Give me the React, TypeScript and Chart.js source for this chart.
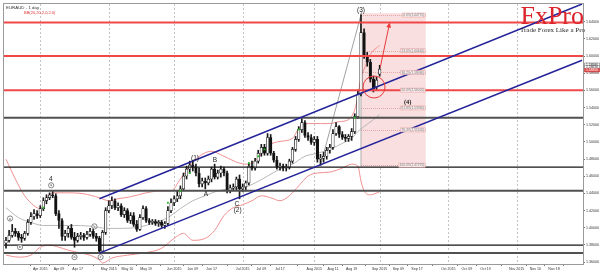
import React, { useEffect, useRef } from 'react';
import { Chart, registerables } from 'chart.js';

Chart.register(...registerables);

// ---- daily candles (index 0 = 17 Mar 2015, weekdays only) ----
const opens = [1.3819,1.3853,1.3911,1.3957,1.3934,1.3888,1.3876,1.3934,1.4061,1.4130,1.4164,1.4141,1.4222,1.4314,1.4349,1.4383,1.4372,1.4164,1.4084,1.3899,1.3934,1.3992,1.3888,1.3853,1.3899,1.3911,1.3888,1.3922,1.3957,1.3899,1.3876,1.3726,1.3945,1.4199,1.4256,1.4314,1.4233,1.4256,1.4153,1.4199,1.4084,1.4141,1.4038,1.3980,1.4118,1.4222,1.4084,1.4061,1.4072,1.4049,1.4061,1.4026,1.4049,1.4199,1.4291,1.4337,1.4372,1.4452,1.4602,1.4683,1.4729,1.4706,1.4637,1.4510,1.4544,1.4521,1.4567,1.4683,1.4590,1.4637,1.4683,1.4637,1.4429,1.4464,1.4475,1.4567,1.4452,1.4475,1.4521,1.4717,1.4694,1.4775,1.4867,1.4936,1.4867,1.5051,1.4867,1.4786,1.4706,1.4717,1.4694,1.4706,1.4775,1.4913,1.5028,1.5143,1.5224,1.5074,1.5051,1.4994,1.5028,1.4798,1.4809,1.4832,1.4902,1.4936,1.5097,1.5178,1.5086,1.5051,1.5040,1.5063,1.5120,1.5293,1.5558,1.6272,1.6007,1.5927,1.5731,1.5639,1.5789];
const highs = [1.3888,1.3968,1.4038,1.3992,1.3957,1.3922,1.3957,1.4095,1.4176,1.4210,1.4199,1.4256,1.4349,1.4383,1.4406,1.4429,1.4395,1.4199,1.4107,1.3968,1.4015,1.4038,1.3945,1.3934,1.3945,1.3934,1.3957,1.3992,1.3980,1.3934,1.3899,1.3968,1.4233,1.4314,1.4360,1.4337,1.4291,1.4279,1.4233,1.4222,1.4176,1.4176,1.4084,1.4153,1.4256,1.4245,1.4107,1.4095,1.4095,1.4084,1.4084,1.4072,1.4245,1.4337,1.4372,1.4429,1.4487,1.4637,1.4717,1.4775,1.4786,1.4740,1.4694,1.4579,1.4579,1.4602,1.4706,1.4740,1.4671,1.4717,1.4706,1.4660,1.4498,1.4510,1.4590,1.4614,1.4510,1.4544,1.4752,1.4775,1.4809,1.4902,1.4971,1.4971,1.5097,1.5086,1.4890,1.4832,1.4752,1.4740,1.4740,1.4798,1.4936,1.5063,1.5178,1.5270,1.5247,1.5109,1.5086,1.5063,1.5063,1.4855,1.4879,1.4936,1.4971,1.5143,1.5224,1.5190,1.5120,1.5086,1.5086,1.5155,1.5328,1.5604,1.6480,1.6318,1.6042,1.5961,1.5765,1.5754,1.5892];
const lows = [1.3761,1.3830,1.3888,1.3899,1.3853,1.3830,1.3853,1.3911,1.4038,1.4095,1.4107,1.4118,1.4199,1.4279,1.4326,1.4349,1.4141,1.3992,1.3853,1.3853,1.3888,1.3865,1.3773,1.3830,1.3865,1.3853,1.3865,1.3899,1.3876,1.3842,1.3704,1.3715,1.3922,1.4176,1.4222,1.4210,1.4199,1.4130,1.4118,1.4061,1.4049,1.4015,1.3957,1.3968,1.4095,1.4061,1.4038,1.4038,1.4026,1.4015,1.4003,1.3992,1.4026,1.4176,1.4256,1.4303,1.4337,1.4429,1.4567,1.4637,1.4660,1.4602,1.4475,1.4475,1.4452,1.4498,1.4533,1.4567,1.4567,1.4590,1.4602,1.4406,1.4406,1.4429,1.4441,1.4337,1.4418,1.4429,1.4498,1.4671,1.4671,1.4752,1.4832,1.4844,1.4844,1.4844,1.4763,1.4683,1.4671,1.4660,1.4660,1.4683,1.4752,1.4890,1.5005,1.5109,1.5051,1.5017,1.4971,1.4959,1.4763,1.4727,1.4763,1.4798,1.4867,1.4913,1.5074,1.5051,1.5028,1.5005,1.5005,1.5017,1.5097,1.5270,1.5535,1.5973,1.5881,1.5696,1.5581,1.5604,1.5765];
const closes = [1.3853,1.3911,1.3957,1.3934,1.3888,1.3876,1.3934,1.4061,1.4130,1.4164,1.4141,1.4222,1.4314,1.4349,1.4383,1.4372,1.4164,1.4084,1.3899,1.3934,1.3992,1.3888,1.3853,1.3899,1.3911,1.3888,1.3922,1.3957,1.3899,1.3876,1.3726,1.3945,1.4199,1.4256,1.4314,1.4233,1.4256,1.4153,1.4199,1.4084,1.4141,1.4038,1.3980,1.4118,1.4222,1.4084,1.4061,1.4072,1.4049,1.4061,1.4026,1.4049,1.4199,1.4291,1.4337,1.4372,1.4452,1.4602,1.4683,1.4729,1.4706,1.4637,1.4510,1.4544,1.4521,1.4567,1.4683,1.4590,1.4637,1.4683,1.4637,1.4429,1.4464,1.4475,1.4567,1.4452,1.4475,1.4521,1.4717,1.4694,1.4775,1.4867,1.4936,1.4867,1.5051,1.4867,1.4786,1.4706,1.4717,1.4694,1.4706,1.4775,1.4913,1.5028,1.5143,1.5224,1.5074,1.5051,1.4994,1.5028,1.4798,1.4809,1.4832,1.4902,1.4936,1.5097,1.5178,1.5086,1.5051,1.5040,1.5063,1.5120,1.5293,1.5558,1.6272,1.6007,1.5927,1.5731,1.5616,1.5719,1.5846];

// ---- Bollinger bands: [bar index, price] ----
const bbUpper = [[0,1.4798],[3,1.4567],[6,1.4372],[9,1.4256],[11,1.4222],[13,1.4337],[15,1.4406],[20,1.4406],[25,1.4395],[30,1.4349],[33,1.4314],[36,1.4337],[40,1.4360],[45,1.4406],[50,1.4429],[53,1.4429],[56,1.4567],[59,1.4717],[61,1.4798],[63,1.4855],[66,1.4890],[70,1.4832],[75,1.4752],[78,1.4740],[82,1.4855],[85,1.4971],[88,1.5005],[92,1.5040],[94,1.5155],[97,1.5213],[101,1.5213],[104,1.5213],[107,1.5236],[110,1.5259],[112,1.5374],[113,1.5524],[114,1.5754],[115,1.5846],[117,1.6019],[120,1.6123]];
const bbMiddle = [[0,1.4233],[4,1.4118],[8,1.4061],[12,1.4026],[20,1.4026],[28,1.4015],[32,1.3992],[36,1.3992],[42,1.4003],[48,1.4061],[52,1.4118],[56,1.4222],[60,1.4314],[64,1.4372],[68,1.4429],[72,1.4452],[76,1.4464],[80,1.4521],[84,1.4602],[88,1.4683],[92,1.4740],[96,1.4832],[100,1.4867],[104,1.4913],[108,1.4982],[111,1.5040],[113,1.5120],[115,1.5178],[118,1.5259],[120,1.5316]];
const bbLower = [[0,1.3680],[4,1.3657],[8,1.3680],[11,1.3773],[14,1.3796],[17,1.3773],[20,1.3738],[24,1.3704],[27,1.3680],[30,1.3623],[31,1.3588],[34,1.3646],[39,1.3680],[44,1.3704],[50,1.3761],[54,1.3876],[57,1.3934],[60,1.3853],[64,1.3876],[67,1.3968],[70,1.4141],[73,1.4233],[76,1.4268],[79,1.4314],[82,1.4372],[85,1.4349],[88,1.4314],[91,1.4372],[94,1.4487],[97,1.4602],[100,1.4637],[104,1.4648],[108,1.4694],[111,1.4740],[113,1.4717],[114,1.4544],[115,1.4429],[117,1.4383],[120,1.4418]];

// ---- signal dots ----
const greenIdx = [12, 52, 56, 59, 78, 81, 83, 94, 112];
const greenVal = [1.4233, 1.4291, 1.4429, 1.4637, 1.4752, 1.4832, 1.4913, 1.5143, 1.5282];

// ---- horizontal levels ----
const redLevels = [1.6390, 1.6000, 1.5600];
const greyLevels = [1.5282, 1.4429, 1.3704];
const blackLevels = [1.4706, 1.3796];

// ---- channel (bar index, price) ----
const upperChannel = [[30, 1.4337], [185, 1.6606]];
const lowerChannel = [[30, 1.3704], [185, 1.5950]];
const fibTrend = [[101, 1.4727], [114.3, 1.6520]];
const fibEdge = [[114, 1.4715], [114, 1.6500]];

// ---- Fibonacci ----
const fibLevels = [1.6477, 1.6064, 1.5808, 1.5602, 1.5396, 1.5140, 1.4727];
const fibLabels = ['0.0%(1.64770)', '23.6%(1.60640)', '38.2%(1.58080)', '50.0%(1.56020)', '61.8%(1.53960)', '76.4%(1.51400)', '100.0%(1.47270)'];
const fibBox = [114, 134.8, 1.6500, 1.4715];

// ---- axes ----
const xTickIndex = [11, 17, 23, 33, 39, 45, 54, 60, 66, 76, 82, 88, 99, 105, 111, 120, 126, 132, 142, 148, 154, 164, 170, 176];
const xTickLabels = ['Apr 2015', 'Apr 09', 'Apr 17', 'May 2015', 'May 10', 'May 19', 'Jun 2015', 'Jun 09', 'Jun 17', 'Jul 2015', 'Jul 09', 'Jul 17', 'Aug 2015', 'Aug 11', 'Aug 19', 'Sep 2015', 'Sep 09', 'Sep 17', 'Oct 2015', 'Oct 09', 'Oct 19', 'Nov 2015', 'Nov 10', 'Nov 18'];
const monthStartIndex = [11, 33, 54, 76, 99, 120, 142, 164];
const yTickValues = [1.36, 1.38, 1.40, 1.42, 1.44, 1.46, 1.48, 1.50, 1.52, 1.54, 1.56, 1.58, 1.60, 1.62, 1.64];
const priceTags = [1.5898, 1.5869, 1.5835];

// ---- wave annotations ----
const waveText = ['(3)', '(4)', '(1)', 'B', 'A', 'C', '(2)', '4'];
const waveIdx = [114, 129, 60.7, 67.1, 64.2, 74.1, 74.4, 14.4];
const waveVal = [1.6534, 1.5455, 1.4809, 1.4786, 1.4395, 1.4279, 1.4199, 1.4567];
const circText = ['a', 'b', 'a', 'a', 'b', 'c'];
const circIdx = [1.3, 4.5, 14.5, 22, 28.4, 30.4];
const circVal = [1.4107, 1.3773, 1.4494, 1.3657, 1.4015, 1.3657];
const ringCenter = [118.2, 1.5639];
const arrowFrom = [120.2, 1.5869];
const arrowTo = [123.1, 1.6368];

const FONT = '"Liberation Sans", Arial, sans-serif';
const SERIF = '"Liberation Serif", "Times New Roman", serif';

const pts = (arr: number[][]) => arr.map(([x, y]) => ({ x, y }));

const overlay = {
  id: 'overlay',
  beforeDatasetsDraw(chart: any) {
    const { ctx, chartArea: a, scales } = chart;
    const x = scales.x, y = scales.y;
    ctx.save();
    ctx.beginPath();
    ctx.rect(a.left, a.top, a.right - a.left, a.bottom - a.top);
    ctx.clip();
    // month grid
    ctx.strokeStyle = '#c4c4c4';
    ctx.lineWidth = 1;
    ctx.setLineDash([2, 2]);
    monthStartIndex.forEach((i) => {
      const px = Math.round(x.getPixelForValue(i)) + 0.5;
      ctx.beginPath();
      ctx.moveTo(px, a.top);
      ctx.lineTo(px, a.bottom);
      ctx.stroke();
    });
    ctx.setLineDash([]);
    // fib box
    const rx1 = x.getPixelForValue(fibBox[0]);
    const rx2 = x.getPixelForValue(fibBox[1]);
    const ry1 = y.getPixelForValue(fibBox[2]);
    const ry2 = y.getPixelForValue(fibBox[3]);
    ctx.fillStyle = '#f9dfdf';
    ctx.fillRect(rx1, ry1, rx2 - rx1, ry2 - ry1);
    ctx.strokeStyle = '#e3a6a6';
    ctx.setLineDash([1, 1]);
    fibLevels.forEach((v) => {
      const py = Math.round(y.getPixelForValue(v)) + 0.5;
      ctx.beginPath();
      ctx.moveTo(rx1, py);
      ctx.lineTo(rx2, py);
      ctx.stroke();
    });
    ctx.restore();
  },
  afterDatasetsDraw(chart: any) {
    const { ctx, chartArea: a, scales } = chart;
    const x = scales.x, y = scales.y;
    ctx.save();
    ctx.beginPath();
    ctx.rect(a.left, a.top, a.right - a.left, a.bottom - a.top);
    ctx.clip();
    // fib labels
    const rx2 = x.getPixelForValue(fibBox[1]);
    ctx.font = `3.2px ${FONT}`;
    ctx.textAlign = 'right';
    ctx.textBaseline = 'middle';
    fibLevels.forEach((v, i) => {
      const py = y.getPixelForValue(v);
      const w = ctx.measureText(fibLabels[i]).width + 2;
      ctx.fillStyle = '#fbeeee';
      ctx.strokeStyle = '#e4a5a5';
      ctx.lineWidth = 0.6;
      ctx.beginPath();
      ctx.rect(rx2 - w - 0.5, py - 2, w, 4);
      ctx.fill();
      ctx.stroke();
      ctx.fillStyle = '#777';
      ctx.fillText(fibLabels[i], rx2 - 1.5, py + 0.2);
    });
    // red ring
    ctx.strokeStyle = '#e83a3a';
    ctx.lineWidth = 1;
    ctx.beginPath();
    ctx.arc(x.getPixelForValue(ringCenter[0]), y.getPixelForValue(ringCenter[1]), 11, 0, Math.PI * 2);
    ctx.stroke();
    // arrow
    const ax1 = x.getPixelForValue(arrowFrom[0]), ay1 = y.getPixelForValue(arrowFrom[1]);
    const ax2 = x.getPixelForValue(arrowTo[0]), ay2 = y.getPixelForValue(arrowTo[1]);
    ctx.beginPath();
    ctx.moveTo(ax1, ay1);
    ctx.lineTo(ax2, ay2);
    ctx.stroke();
    const ang = Math.atan2(ay2 - ay1, ax2 - ax1);
    ctx.fillStyle = '#e83a3a';
    ctx.beginPath();
    ctx.moveTo(ax2 + Math.cos(ang) * 2, ay2 + Math.sin(ang) * 2);
    ctx.lineTo(ax2 + Math.cos(ang + 2.5) * 4, ay2 + Math.sin(ang + 2.5) * 4);
    ctx.lineTo(ax2 + Math.cos(ang - 2.5) * 4, ay2 + Math.sin(ang - 2.5) * 4);
    ctx.closePath();
    ctx.fill();
    // wave labels
    ctx.textAlign = 'center';
    ctx.textBaseline = 'middle';
    waveText.forEach((t, i) => {
      ctx.font = t === '(4)' ? `bold 6.5px ${SERIF}` : `6.5px ${FONT}`;
      ctx.fillStyle = '#1c1c1c';
      ctx.fillText(t, x.getPixelForValue(waveIdx[i]), y.getPixelForValue(waveVal[i]));
    });
    // circled letters
    circText.forEach((t, i) => {
      const cx = x.getPixelForValue(circIdx[i]);
      const cy = y.getPixelForValue(circVal[i]);
      ctx.fillStyle = '#fff';
      ctx.strokeStyle = '#555';
      ctx.lineWidth = 0.7;
      ctx.beginPath();
      ctx.arc(cx, cy, 2.6, 0, Math.PI * 2);
      ctx.fill();
      ctx.stroke();
      ctx.fillStyle = '#333';
      ctx.font = `3.6px ${FONT}`;
      ctx.fillText(t, cx, cy + 0.2);
    });
    ctx.restore();
  },
  afterDraw(chart: any) {
    const { ctx, chartArea: a, scales } = chart;
    const y = scales.y;
    ctx.save();
    // frame
    ctx.strokeStyle = '#9a9a9a';
    ctx.lineWidth = 1;
    ctx.strokeRect(a.left - 0.5, a.top - 0.5, a.right - a.left + 1, a.bottom - a.top + 1);
    // title
    ctx.textAlign = 'left';
    ctx.textBaseline = 'middle';
    ctx.font = `4.4px ${FONT}`;
    ctx.fillStyle = '#333';
    ctx.fillText('EURAUD - 1 day', a.left + 2, a.top + 3.5);
    ctx.fillStyle = '#e03030';
    ctx.font = `4px ${FONT}`;
    ctx.fillText('BB(20,20,2,0,2.0)', a.left + 20, a.top + 8.5);
    // price tags on right axis
    ctx.font = `3.4px ${FONT}`;
    priceTags.forEach((v, i) => {
      const py = y.getPixelForValue(v);
      const red = i === priceTags.length - 1;
      ctx.fillStyle = red ? '#e05050' : '#ffffff';
      ctx.strokeStyle = red ? '#c03030' : '#777';
      ctx.lineWidth = 0.6;
      ctx.beginPath();
      ctx.rect(a.right + 1.5, py - 1.8, 15, 3.6);
      ctx.fill();
      ctx.stroke();
      ctx.fillStyle = red ? '#fff' : '#333';
      ctx.fillText(v.toFixed(5), a.right + 3, py + 0.2);
    });
    // logo
    ctx.textAlign = 'right';
    ctx.textBaseline = 'alphabetic';
    ctx.fillStyle = '#d9252b';
    ctx.font = `26px ${SERIF}`;
    ctx.fillText('FxPro', a.right + 1, 24);
    ctx.fillStyle = '#2a2a2a';
    ctx.font = `7px ${SERIF}`;
    ctx.fillText('Trade Forex Like a Pro', a.right + 2, 31.5);
    ctx.restore();
  },
};

export default function App() {
  const ref = useRef<HTMLCanvasElement | null>(null);
  useEffect(() => {
    if (!ref.current) return;
    const levelSet = (vals: number[], color: string, width: number) =>
      vals.map((v) => ({
        type: 'line' as const,
        data: [{ x: -1, y: v }, { x: 186, y: v }],
        borderColor: color,
        borderWidth: width,
        pointRadius: 0,
        order: 3,
      }));
    const bull = opens.map((o, i) => closes[i] >= o);
    const chart = new Chart(ref.current, {
      type: 'bar',
      data: {
        datasets: [
          ...levelSet(redLevels, '#f04848', 2),
          ...levelSet(greyLevels, '#505050', 2),
          ...levelSet(blackLevels, '#141414', 1.3),
          {
            type: 'line',
            data: pts(bbUpper),
            borderColor: '#f09090',
            borderWidth: 1,
            pointRadius: 0,
            cubicInterpolationMode: 'monotone',
            order: 9,
          },
          {
            type: 'line',
            data: pts(bbMiddle),
            borderColor: '#b8b8b8',
            borderWidth: 1,
            pointRadius: 0,
            cubicInterpolationMode: 'monotone',
            order: 9,
          },
          {
            type: 'line',
            data: pts(bbLower),
            borderColor: '#f09090',
            borderWidth: 1,
            pointRadius: 0,
            cubicInterpolationMode: 'monotone',
            order: 9,
          },
          {
            type: 'line',
            data: pts(fibTrend),
            borderColor: '#8a8a8a',
            borderWidth: 0.8,
            pointRadius: 0,
            order: 8,
          },
          {
            type: 'line',
            data: pts(fibEdge),
            borderColor: '#9a9a9a',
            borderWidth: 0.8,
            pointRadius: 0,
            order: 8,
          },
          {
            type: 'bar',
            data: highs.map((h, i) => ({ x: i, y: [lows[i], h] })),
            backgroundColor: '#1a1a1a',
            barThickness: 1,
            grouped: false,
            order: 6,
          } as any,
          {
            type: 'bar',
            data: opens.map((o, i) => ({ x: i, y: [o, closes[i]] })),
            backgroundColor: bull.map((b) => (b ? '#ffffff' : '#111111')),
            borderColor: '#1a1a1a',
            borderWidth: 0.7,
            borderSkipped: false,
            barThickness: 2.6,
            minBarLength: 1,
            grouped: false,
            order: 5,
          } as any,
          {
            type: 'line',
            data: pts(upperChannel),
            borderColor: '#23239a',
            borderWidth: 1.5,
            pointRadius: 0,
            order: 2,
          },
          {
            type: 'line',
            data: pts(lowerChannel),
            borderColor: '#23239a',
            borderWidth: 1.5,
            pointRadius: 0,
            order: 2,
          },
          {
            type: 'line',
            data: greenIdx.map((g, i) => ({ x: g, y: greenVal[i] })),
            showLine: false,
            pointStyle: 'rect',
            pointRadius: 1.3,
            pointBackgroundColor: '#22bb22',
            pointBorderColor: '#22bb22',
            pointBorderWidth: 0,
            order: 1,
          },
        ] as any,
      },
      options: {
        animation: false,
        responsive: false,
        maintainAspectRatio: false,
        events: [],
        layout: { padding: { left: 1, top: 1, right: 0, bottom: 0 } },
        plugins: { legend: { display: false }, tooltip: { enabled: false } },
        scales: {
          x: {
            type: 'linear',
            min: -0.64,
            max: 185.3,
            offset: false,
            border: { display: true, color: '#777' },
            grid: { drawOnChartArea: false, color: '#777', tickColor: '#777', tickLength: 2 },
            ticks: {
              autoSkip: false,
              maxRotation: 0,
              minRotation: 0,
              padding: 1,
              color: '#333',
              font: { size: 3.6, family: FONT },
              callback: (_v: any, idx: number) => xTickLabels[idx] ?? '',
            },
            afterBuildTicks: (s: any) => {
              s.ticks = xTickIndex.map((v) => ({ value: v }));
            },
            afterFit: (s: any) => {
              s.height = 10;
            },
          },
          y: {
            type: 'linear',
            position: 'right',
            min: 1.3577,
            max: 1.6606,
            border: { display: true, color: '#777' },
            grid: { drawOnChartArea: false, color: '#777', tickColor: '#777', tickLength: 2 },
            ticks: {
              padding: 1,
              color: '#333',
              font: { size: 3.6, family: FONT },
              callback: (v: any) => Number(v).toFixed(5),
            },
            afterBuildTicks: (s: any) => {
              s.ticks = yTickValues.map((v) => ({ value: v }));
            },
            afterFit: (s: any) => {
              s.width = 17;
            },
          },
        },
      } as any,
      plugins: [overlay],
    });
    return () => chart.destroy();
  }, []);
  return (
    <div style={{ position: 'fixed', left: 0, top: 0, width: 600, height: 274, background: '#fff' }}>
      <canvas ref={ref} width={600} height={274} style={{ display: 'block', width: 600, height: 274 }} />
    </div>
  );
}
